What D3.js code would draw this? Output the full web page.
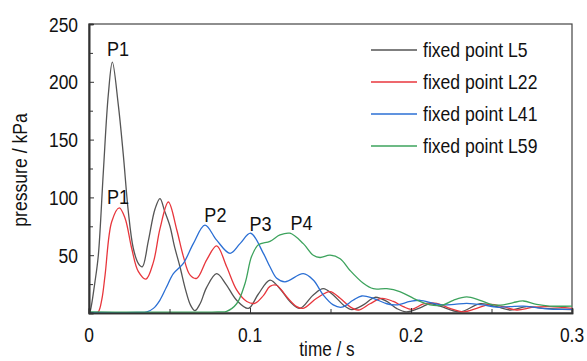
<!DOCTYPE html>
<html><head><meta charset="utf-8">
<script src="https://cdn.jsdelivr.net/npm/d3@7"></script>
<style>
body{margin:0;background:#fff;}
text{font-family:"Liberation Sans",Arial,sans-serif;fill:#111;}
</style></head><body>
<svg id="c" width="587" height="361"></svg>
<script>
const seriesNames = ["fixed point L5","fixed point L22","fixed point L41","fixed point L59"];
const seriesColors = ["#555555","#e8363c","#2b6fd4","#3da35d"];
const tL5 = [0,0.0006,0.0037,0.0058,0.0089,0.012,0.0145,0.0182,0.0213,0.0244,0.0275,0.0306,0.0331,0.0368,0.041,0.0441,0.047,0.0503,0.053,0.0565,0.060,0.063,0.0658,0.069,0.073,0.0793,0.085,0.0917,0.099,0.105,0.1124,0.1186,0.1248,0.131,0.1393,0.1455,0.1517,0.158,0.1632,0.1704,0.1776,0.185,0.191,0.197,0.2056,0.2118,0.218,0.2304,0.2429,0.2532,0.2615,0.2718,0.282,0.3];
const pL5 = [0,1,27,50,122,189,217,180,137,88,56,43,40,62,90,99,88,75,58,40,20,7,2,8,22,34,25,11,4,16,28.5,21,10,4,15.6,21,15.6,7,3,7,13.6,10,4,1,4.5,8,6,1,8,5.5,2.6,5.5,4,3];
const tL22 = [0,0.004,0.0058,0.008,0.01,0.0141,0.0188,0.0224,0.0265,0.0306,0.0354,0.040,0.0441,0.0493,0.0545,0.0586,0.0627,0.0669,0.0731,0.0793,0.0855,0.0917,0.098,0.103,0.1083,0.1124,0.1165,0.1228,0.129,0.133,0.1414,0.1497,0.156,0.162,0.1673,0.1745,0.1818,0.189,0.1952,0.2004,0.2077,0.216,0.2242,0.2325,0.2408,0.249,0.2573,0.2657,0.276,0.2863,0.3];
const pL22 = [0,0.3,1,12,33,79,91,82,56,36,29.4,44,73,96,72,49,33,30,46,58,40,20,10,8.4,15,23,24,14,5.5,4,12.7,18.5,12.7,5.5,2.6,8,12.7,10,5.5,3.2,7.8,8.4,4,1,4,7.5,5.5,2.6,5,5.5,4];
const tL41 = [0,0.03,0.036,0.040,0.044,0.048,0.0524,0.0586,0.0648,0.072,0.0793,0.0876,0.0938,0.1004,0.1083,0.1124,0.1166,0.1217,0.1331,0.1393,0.1455,0.1517,0.157,0.164,0.1694,0.1766,0.185,0.191,0.1994,0.2056,0.214,0.22,0.227,0.2346,0.245,0.2532,0.2615,0.2698,0.278,0.2884,0.3];
const pL41 = [0.5,0.5,1,4,11,22,34,43,60,76,63,51.6,60,69,51.6,40,30,27,34,28.5,15.6,7,5,11,14.7,12.7,8,7,10,11,8.4,7,7.5,8.4,7,5,5.5,6,4.6,3.2,3.2];
const tL59 = [0,0.08,0.0855,0.0917,0.097,0.101,0.1052,0.1124,0.1186,0.1248,0.1331,0.1393,0.1435,0.1497,0.156,0.162,0.1704,0.1766,0.185,0.193,0.2015,0.2056,0.2118,0.22,0.2263,0.2346,0.2429,0.2511,0.2573,0.2635,0.2698,0.278,0.2863,0.3];
const pL59 = [1,1,1.5,8,26,49,59,62,67.5,69,60,50,48,50,47,37,25.7,21,21,18.5,12.7,10,7,7,11,14,11,7,7,9,10.4,7.5,6,6];
const xTicks = [0,0.1,0.2,0.3];
const xMinor = [0.05,0.15,0.25];
const yTicks = [50,100,150,200,250];
const yMinor = [25,75,125,175,225];
const peakLabels = [{t:"P1",x:0.018,y:222},{t:"P1",x:0.018,y:94},{t:"P2",x:0.0785,y:79},{t:"P3",x:0.1065,y:71},{t:"P4",x:0.132,y:72}];

const series = [[tL5,pL5],[tL22,pL22],[tL41,pL41],[tL59,pL59]];
const L=89,R=572,T=24,B=313;
const x = d3.scaleLinear().domain([0,0.3]).range([L,R]);
const y = d3.scaleLinear().domain([0,250]).range([B,T]);
const svg = d3.select("#c");

function label(px,py,str,opts={}){
  const size=opts.size||20, sx=opts.sx||0.88, anchor=opts.anchor||"start", rot=opts.rot||0;
  svg.append("text")
    .attr("transform",`translate(${px},${py}) rotate(${rot}) scale(${sx},1)`)
    .attr("text-anchor",anchor).attr("font-size",size).text(str);
}

// frame
svg.append("rect").attr("x",L).attr("y",T).attr("width",R-L).attr("height",B-T)
  .attr("fill","none").attr("stroke","#444").attr("stroke-width",1.2);

const line = d3.line().x(d=>x(d[0])).y(d=>y(d[1])).curve(d3.curveCatmullRom.alpha(0.5));
series.forEach((s,i)=>{
  const pts = s[0].map((t,j)=>[t,s[1][j]]);
  svg.append("path").datum(pts).attr("d",line).attr("fill","none")
    .attr("stroke",seriesColors[i]).attr("stroke-width",1.3);
});

// axes (ticks inward, labels drawn separately for condensed look)
const xa = svg.append("g").attr("transform",`translate(0,${B})`)
  .call(d3.axisBottom(x).tickValues(xTicks).tickSize(-5).tickFormat(""));
const xm = svg.append("g").attr("transform",`translate(0,${B})`)
  .call(d3.axisBottom(x).tickValues(xMinor).tickSize(-4).tickFormat(""));
const ya = svg.append("g").attr("transform",`translate(${L},0)`)
  .call(d3.axisLeft(y).tickValues(yTicks).tickSize(-5).tickFormat(""));
const ym = svg.append("g").attr("transform",`translate(${L},0)`)
  .call(d3.axisLeft(y).tickValues(yMinor).tickSize(-4).tickFormat(""));
[xa,xm,ya,ym].forEach(g=>{
  g.selectAll(".domain").attr("stroke","#333").attr("stroke-width",1.6);
  g.selectAll(".tick line").attr("stroke","#333").attr("stroke-width",1);
});
const xfmt = d=>d===0?"0":d3.format(".1f")(d);
xTicks.forEach(v=>label(x(v),342,xfmt(v),{size:21,sx:0.83,anchor:"middle"}));
yTicks.forEach(v=>label(78,y(v)+7.5,String(v),{size:21,sx:0.83,anchor:"end"}));

// axis titles
label(327,356,"time / s",{anchor:"middle",sx:0.86});
label(27,170,"pressure / kPa",{anchor:"middle",rot:-90,sx:0.88});

// peak labels
peakLabels.forEach(p=>label(x(p.x),y(p.y),p.t,{anchor:"middle",size:21,sx:0.86}));

// legend
seriesNames.forEach((n,i)=>{
  const ly = 50 + i*32;
  svg.append("line").attr("x1",371).attr("x2",417).attr("y1",ly).attr("y2",ly)
    .attr("stroke",seriesColors[i]).attr("stroke-width",1.3);
  label(423,ly+7,n,{size:20,sx:0.88});
});
</script></body></html>
